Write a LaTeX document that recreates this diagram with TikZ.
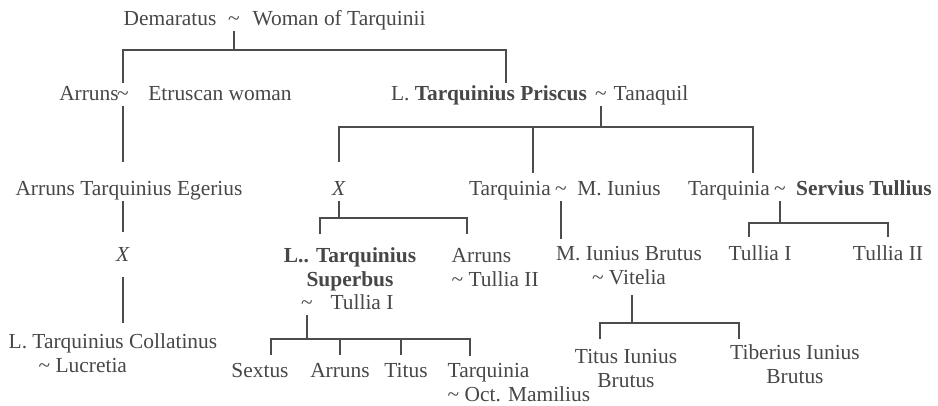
\documentclass[tikz,border=0pt]{standalone}
\usepackage{fontspec}
\setmainfont{Liberation Serif}

\begin{document}
\begin{tikzpicture}[x=1bp, y=-1bp,
	every node/.style={font=\fontsize{21.5}{24}\selectfont, text=black!72, inner sep=1.5bp},
	person/.style={anchor=base, text height=15bp, text depth=4.7bp},
	persons/.style={anchor=base, align=center},
	personl/.style={anchor=base west, align=left},
	kin/.style={draw=black!70, line width=1.5bp}]
	\useasboundingbox (0,0) rectangle (938,405);

	% Demaratus ~ Woman of Tarquinii
	\node [person] (demaratus) at (170,25) {Demaratus};
	\node [person] (m1)        at (234,25) {\textasciitilde};
	\node [person] (wotarq)    at (339,25) {Woman of Tarquinii};

	% their sons
	\node [person] (arruns)    at (89,100)  {Arruns};
	\node [person] (m2)        at (123,100) {\textasciitilde};
	\node [person] (etrusc)    at (220,100) {Etruscan woman};
	\node [person] (priscus)   at (489,100) {L. \textbf{Tarquinius Priscus}};
	\node [person] (m3)        at (601,100) {\textasciitilde};
	\node [person] (tanaquil)  at (651,100) {Tanaquil};

	% next generation
	\node [person] (egerius)   at (129,195) {Arruns Tarquinius Egerius};
	\node [person] (xone)      at (339,195) {\textit{X}};
	\node [person] (tarqA)     at (510,195) {Tarquinia};
	\node [person] (m4)        at (561,195) {\textasciitilde};
	\node [person] (iunius)    at (619,195) {M. Iunius};
	\node [person] (tarqB)     at (729,195) {Tarquinia};
	\node [person] (m5)        at (780,195) {\textasciitilde};
	\node [person] (servius)   at (864,195) {\textbf{Servius Tullius}};

	% (base of a two-line node = its last line)
	\node [person]  (xtwo)     at (123,261) {\textit{X}};
	\node [persons] (superbus) at (350,286) {\textbf{L.. Tarquinius}\\\textbf{Superbus}};
	\node [person]  (m6)       at (307,309) {\textasciitilde};
	\node [person]  (tullia)   at (362,309) {Tullia I};
	\node [personl] (arrunsB)  at (450,286) {Arruns\\\textasciitilde{} Tullia II};
	\node [persons] (brutus)   at (629,284) {M. Iunius Brutus\\\textasciitilde{} Vitelia};
	\node [person]  (tulliaA)  at (760,260) {Tullia I};
	\node [person]  (tulliaB)  at (888,260) {Tullia II};

	\node [personl] (collat)   at (7,372)   {L. Tarquinius Collatinus\\\hspace*{1.4em}\textasciitilde{} Lucretia};
	\node [person]  (sextus)   at (260,377) {Sextus};
	\node [person]  (arrunsC)  at (340,377) {Arruns};
	\node [person]  (titus)    at (406,377) {Titus};
	\node [personl] (tarqC)    at (446,401) {Tarquinia\\\textasciitilde{} Oct. Mamilius};
	\node [persons] (titusIB)  at (626,387) {Titus Iunius\\Brutus};
	\node [persons] (tiberius) at (795,383) {Tiberius Iunius\\Brutus};

	% bars
	\coordinate (b1) at (234,50);
	\coordinate (b2) at (601,127);
	\coordinate (b3) at (339,218);
	\coordinate (b4) at (780,223);
	\coordinate (b5) at (307,339);
	\coordinate (b6) at (632,323);

	% lines of descent
	\draw [kin] (m1) -- (b1);
	\draw [kin] (b1) -| (m2);
	\draw [kin] (b1) -| ([xshift=17bp]priscus.north);
	\draw [kin, shorten >=16bp] (m2) -- (m2 |- egerius.north);
	\draw [kin, shorten >=12bp] (egerius.south -| xtwo) -- (xtwo);
	\draw [kin, shorten <=10bp, shorten >=9bp] (xtwo) -- (xtwo |- collat.north);

	\draw [kin] (m3) -- (b2);
	\draw [kin, shorten >=16bp] (b2) -| (xone);
	\draw [kin, shorten >=5bp]  (b2) -| ([xshift=23bp]tarqA.north);
	\draw [kin, shorten >=5bp]  (b2) -| ([xshift=24bp]tarqB.north);

	\draw [kin] (xone) -- (b3);
	\draw [kin, shorten >=12bp] (b3) -| ([xshift=-30bp]superbus.north);
	\draw [kin, shorten >=12bp] (b3) -| ([xshift=17bp]arrunsB.north west);

	\draw [kin, shorten >=5bp] (m4) -- (m4 |- brutus.north);

	\draw [kin] (m5) -- (b4);
	\draw [kin, shorten >=6bp] (b4) -| ([xshift=-11bp]tulliaA.north);
	\draw [kin, shorten >=6bp] (b4) -| (tulliaB);

	\draw [kin] (m6) -- (b5);
	\draw [kin, shorten >=5bp] (b5) -| ([xshift=11bp]sextus.north);
	\draw [kin, shorten >=5bp] (b5) -| (arrunsC);
	\draw [kin, shorten >=5bp] (b5) -| ([xshift=-5bp]titus.north);
	\draw [kin, shorten >=5bp] (b5) -| ([xshift=24bp]tarqC.north west);

	\draw [kin, shorten <=9bp] (brutus.south -| b6) -- (b6);
	\draw [kin, shorten >=8bp] (b6) -| ([xshift=-26bp]titusIB.north);
	\draw [kin, shorten >=4bp] (b6) -| ([xshift=-56bp]tiberius.north);
\end{tikzpicture}
\end{document}
